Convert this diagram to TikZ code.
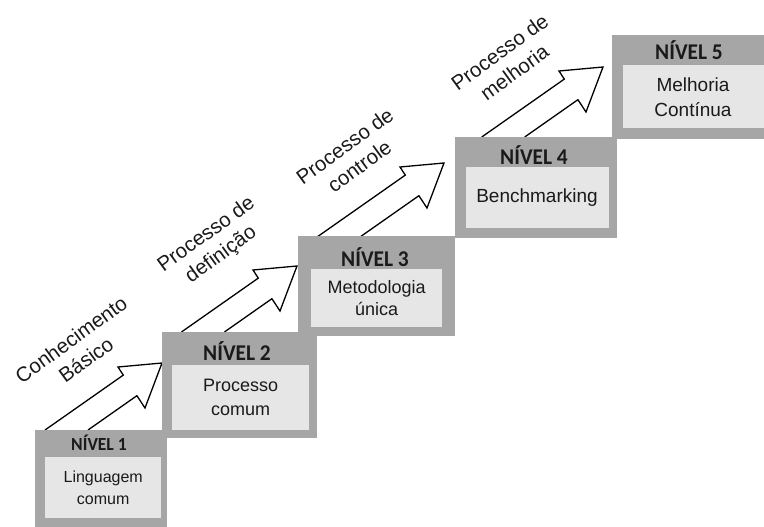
\documentclass[tikz,border=0pt]{standalone}
\usepackage{fontspec}
\setmainfont{Liberation Sans}
\newfontfamily\titlefont{Carlito}
\definecolor{outergray}{HTML}{A6A6A6}
\definecolor{innergray}{HTML}{E6E6E6}
\definecolor{txt}{HTML}{1A1A1A}
\begin{document}
\begin{tikzpicture}[x=1pt,y=-1pt,
  outerbox/.style={fill=outergray, draw=none, inner sep=0pt, anchor=north west},
  innerbox/.style={fill=innergray, draw=none, inner sep=0pt, anchor=north west},
  titletext/.style={font=\titlefont\bfseries\fontsize{22.5}{25}\selectfont, text=txt, inner sep=0pt, xscale=0.95},
  bodytext/.style={font=\fontsize{18}{24}\selectfont, text=txt, align=center, inner sep=0pt},
  steplabel/.style={font=\fontsize{20.5}{25}\selectfont, text=txt, align=center, inner sep=0pt, rotate=36},
  arrowline/.style={draw=black, fill=white, line width=1.3pt, line join=miter},
  pics/blockarrow/.style={code={
    \filldraw[arrowline] ({-38.7-(#1-12.1)/0.7016},#1) -- (-38.7,12.1) -- (-44,4) -- (0,0)
      -- (-17,45) -- (-25.1,32.7) -- ({-25.1-(#1-32.7)/0.7016},#1);
  }}
]
\useasboundingbox (0,0) rectangle (764,527);

% block arrows (drawn first; boxes sit on their bases)
\coordinate (t1) at (162,363);
\coordinate (t2) at (297,266);
\coordinate (t3) at (444,163);
\coordinate (t4) at (603,67);
\pic at (t1) {blockarrow=67};
\pic at (t2) {blockarrow=66};
\pic at (t3) {blockarrow=74};
\pic at (t4) {blockarrow=70};

% level boxes
\node[outerbox, minimum width=132pt, minimum height=97pt] (o1) at (35,430) {};
\node[innerbox, minimum width=116pt, minimum height=61pt] (i1) at (45,457) {};
\node[outerbox, minimum width=155pt, minimum height=106pt] (o2) at (162,332) {};
\node[innerbox, minimum width=137pt, minimum height=65pt] (i2) at (172,365) {};
\node[outerbox, minimum width=157pt, minimum height=100pt] (o3) at (298,236) {};
\node[innerbox, minimum width=131pt, minimum height=58pt] (i3) at (311,269) {};
\node[outerbox, minimum width=162pt, minimum height=101pt] (o4) at (455,137) {};
\node[innerbox, minimum width=143pt, minimum height=61pt] (i4) at (466,167) {};
\node[outerbox, minimum width=155pt, minimum height=104pt] (o5) at (612,35) {};
\node[innerbox, minimum width=145pt, minimum height=63pt] (i5) at (623,65) {};

% titles
\node[titletext, font=\titlefont\bfseries\fontsize{18.5}{20}\selectfont] (n1) at (99,443) {NÍVEL 1};
\node[titletext] (n2) at (237,351) {NÍVEL 2};
\node[titletext] (n3) at (375,257) {NÍVEL 3};
\node[titletext] (n4) at (534,155) {NÍVEL 4};
\node[titletext] (n5) at (689,50) {NÍVEL 5};

% body texts
\node[bodytext, font=\fontsize{16}{22}\selectfont] (x1) at (i1.center) {Linguagem\\comum};
\node[bodytext] (x2) at (i2.center) {Processo\\comum};
\node[bodytext, font=\fontsize{18}{22}\selectfont] (x3) at (i3.center) {Metodologia\\única};
\node[bodytext, font=\fontsize{19}{24}\selectfont] (x4) at (537,198) {Benchmarking};
\node[bodytext, font=\fontsize{19}{25}\selectfont] (x5) at (693,97) {Melhoria\\Contínua};

% step labels
\node[steplabel] (l1) at (78.5,349.5) {Conhecimento\\Básico};
\node[steplabel] (l2) at (214,245) {Processo de\\definição};
\node[steplabel] (l3) at (352,156) {Processo de\\controle};
\node[steplabel] (l4) at (507,62) {Processo de\\melhoria};
\end{tikzpicture}
\end{document}
